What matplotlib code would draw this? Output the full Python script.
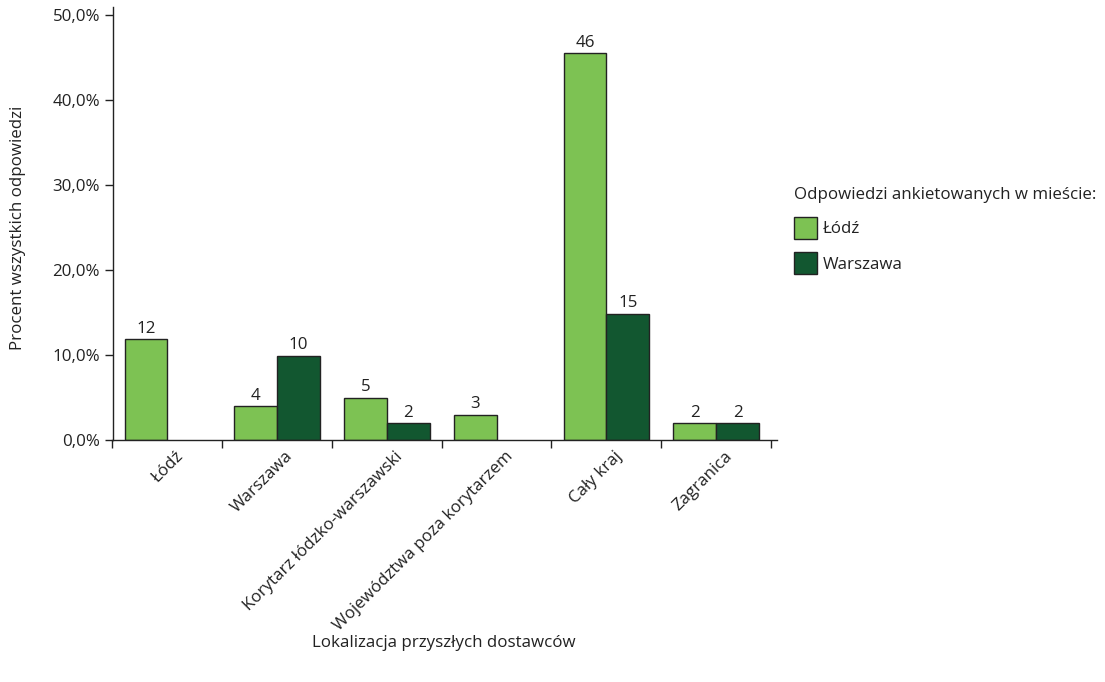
import matplotlib
matplotlib.use("Agg")
import matplotlib.pyplot as plt
import matplotlib.transforms as mtransforms
import numpy as np
from matplotlib.ticker import FuncFormatter
from matplotlib.patches import Patch

plt.rcParams['font.family'] = ['Open Sans', 'DejaVu Sans']

categories = ["Łódź", "Warszawa", "Korytarz łódzko-warszawski",
              "Województwa poza korytarzem", "Cały kraj", "Zagranica"]
# number of answers per supplier location, by city where the survey was done
lodz_counts = [12, 4, 5, 3, 46, 2]
warszawa_counts = [0, 10, 2, 0, 15, 2]
series_names = ["Łódź", "Warszawa"]

total = sum(lodz_counts) + sum(warszawa_counts)
lodz_pct = [100.0 * c / total for c in lodz_counts]
warszawa_pct = [100.0 * c / total for c in warszawa_counts]

light_green = "#7dc253"
dark_green = "#125730"
edge = "#222222"
txt = "#222222"
fs = 12.2

W, H = 1105, 682
fig = plt.figure(figsize=(W / 100, H / 100), dpi=100)
ax = fig.add_axes([112.5 / W, 1 - 440 / H, (777 - 112.5) / W, (440 - 7) / H])

x = np.arange(len(categories))
bw = 0.39

for i in range(len(categories)):
    if lodz_counts[i] > 0:
        ax.bar(x[i] - bw / 2, lodz_pct[i], width=bw, color=light_green,
               edgecolor=edge, linewidth=1.0)
        ax.text(x[i] - bw / 2, lodz_pct[i] + 0.3, str(lodz_counts[i]),
                ha='center', va='bottom', fontsize=fs, color=txt)
    if warszawa_counts[i] > 0:
        ax.bar(x[i] + bw / 2, warszawa_pct[i], width=bw, color=dark_green,
               edgecolor=edge, linewidth=1.0)
        ax.text(x[i] + bw / 2, warszawa_pct[i] + 0.3, str(warszawa_counts[i]),
                ha='center', va='bottom', fontsize=fs, color=txt)

ax.set_xlim(-0.5, 5.555)
ax.set_ylim(0, 51)
ax.set_yticks(np.arange(0, 51, 10))
ax.yaxis.set_major_formatter(FuncFormatter(lambda v, p: f"{v:.1f}%".replace('.', ',')))

# tick marks between groups, labels at group centres
ax.set_xticks(np.arange(-0.5, len(categories), 1.0))
ax.set_xticklabels([])
ax.set_xticks(x, minor=True)
ax.set_xticklabels(categories, minor=True, rotation=45, ha='right',
                   rotation_mode='anchor', fontsize=fs, color=txt)
ax.tick_params(axis='x', which='minor', length=0, pad=6)
ax.tick_params(axis='x', which='major', length=6, width=1, direction='out', color=edge)
ax.tick_params(axis='y', length=6, width=1, direction='out', labelsize=fs,
               color=edge, labelcolor=txt, pad=3)
shift = mtransforms.ScaledTranslation(8 / 100, 0, fig.dpi_scale_trans)
for lbl in ax.get_xticklabels(minor=True):
    lbl.set_transform(lbl.get_transform() + shift)

for s in ['top', 'right']:
    ax.spines[s].set_visible(False)
for s in ['left', 'bottom']:
    ax.spines[s].set_linewidth(1.0)
    ax.spines[s].set_color(edge)

fig.text(18 / W, 1 - 228 / H, "Procent wszystkich odpowiedzi", rotation=90,
         ha='center', va='center', fontsize=fs, color=txt)
fig.text(444 / W, 1 - 643 / H, "Lokalizacja przyszłych dostawców",
         ha='center', va='center', fontsize=fs, color=txt)

handles = [Patch(facecolor=light_green, edgecolor=edge, linewidth=1.0),
           Patch(facecolor=dark_green, edgecolor=edge, linewidth=1.0)]
leg = fig.legend(handles, series_names, title="Odpowiedzi ankietowanych w mieście:",
                 loc='upper left', bbox_to_anchor=(779 / W, 1 - 172 / H),
                 frameon=False, fontsize=fs, title_fontsize=fs,
                 handlelength=1.36, handleheight=1.62, handletextpad=0.3,
                 labelspacing=0.8, alignment='left')
for t in leg.get_texts():
    t.set_color(txt)
leg.get_title().set_color(txt)

fig.savefig("out.png", dpi=100)
